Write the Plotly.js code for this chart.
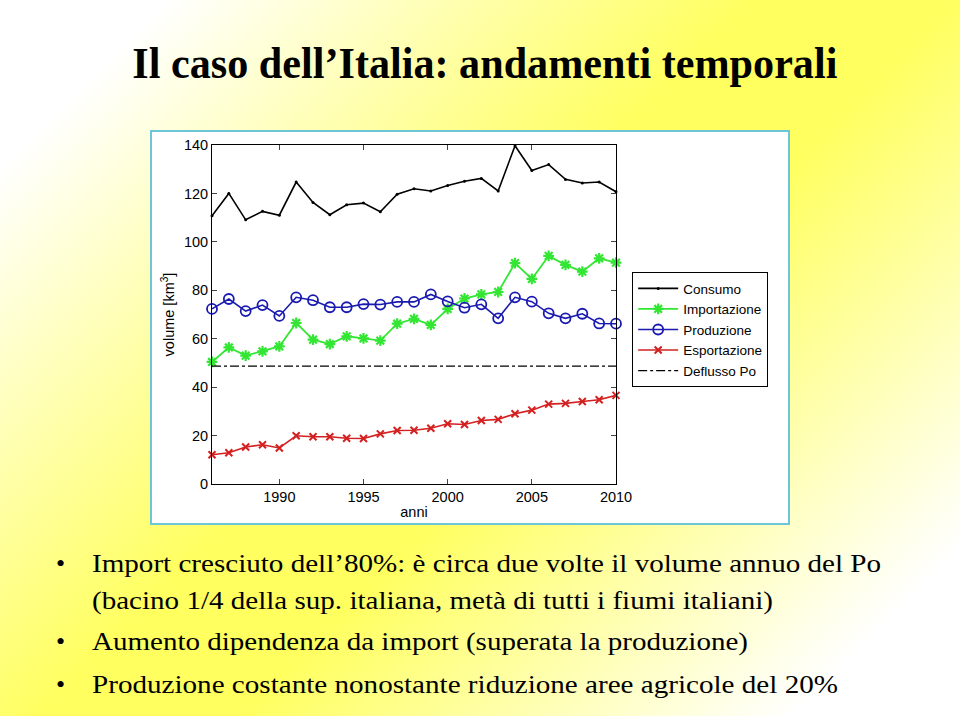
<!DOCTYPE html>
<html>
<head>
<meta charset="utf-8">
<script src="https://cdn.plot.ly/plotly-3.0.1.min.js"></script>
<style>
  html, body { margin:0; padding:0; }
  body { width:960px; height:716px; overflow:hidden; position:relative;
    background: linear-gradient(135deg, #ffffff 10%, #ffff60 45%, #ffff60 57%, #ffffff 90%); }
  #title { position:absolute; left:5px; top:38px; width:960px; text-align:center;
    font-family:"Liberation Serif","Times New Roman",Times,serif; font-weight:bold; font-size:44px; color:#000; white-space:nowrap; }
  #title span { display:inline-block; transform-origin:center; }
  #panel { position:absolute; left:150px; top:130px; width:640px; height:395px; box-sizing:border-box;
    border:2px solid #6cc6d6; background:#fff; }
  #chart { width:636px; height:391px; }
  .b { position:absolute; font-family:"Liberation Serif","Times New Roman",Times,serif; font-size:26px; line-height:26px; color:#000; white-space:nowrap; transform-origin:left center; }
</style>
</head>
<body>
<div id="title"><span id="tspan">Il caso dell’Italia: andamenti temporali</span></div>
<div id="panel"><div id="chart"></div></div>
<div class="b" style="left:56px;top:551px;">•</div>
<div class="b fit" data-w="789" style="left:92px;top:551px;">Import cresciuto dell’80%: è circa due volte il volume annuo del Po</div>
<div class="b fit" data-w="681" style="left:92px;top:588px;">(bacino 1/4 della sup. italiana, metà di tutti i fiumi italiani)</div>
<div class="b" style="left:56px;top:629px;">•</div>
<div class="b fit" data-w="656" style="left:92px;top:629px;">Aumento dipendenza da import (superata la produzione)</div>
<div class="b" style="left:56px;top:672px;">•</div>
<div class="b fit" data-w="746" style="left:92px;top:672px;">Produzione costante nonostante riduzione aree agricole del 20%</div>
<script>
const years = [1986,1987,1988,1989,1990,1991,1992,1993,1994,1995,1996,1997,1998,1999,2000,2001,2002,2003,2004,2005,2006,2007,2008,2009,2010];
const consumo = [110.8,120.0,109.1,112.6,111.0,124.7,116.3,111.2,115.3,116.0,112.4,119.7,121.9,121.0,123.3,125.0,126.2,121.0,139.7,129.5,131.9,125.8,124.3,124.7,120.7];
const importazione = [50.4,56.4,53.0,54.8,56.8,66.5,59.6,57.8,61.0,60.1,59.2,66.2,68.2,65.7,72.3,76.6,78.3,79.3,91.2,84.7,94.2,90.5,87.7,93.2,91.4];
const produzione = [72.3,76.4,71.4,73.9,69.4,77.1,75.9,73.0,73.0,74.3,74.1,75.2,75.2,78.3,75.4,72.8,74.2,68.4,77.1,75.3,70.5,68.4,70.3,66.3,66.2];
const esportazione = [12.1,12.9,15.3,16.2,14.9,19.9,19.5,19.5,18.9,18.8,20.7,22.1,22.2,23.0,24.9,24.6,26.2,26.7,29.0,30.5,33.0,33.3,34.1,34.8,36.6];
const poYears = [1986,2010];
const deflussoPo = [48.7,48.7];
const xTicks = [1990,1995,2000,2005,2010];
const yTicks = [0,20,40,60,80,100,120,140];

const traces = [
  {x:years, y:consumo, name:'Consumo', type:'scatter', mode:'lines+markers', cliponaxis:false,
   line:{color:'#000000', width:1.6}, marker:{symbol:'circle', size:3, color:'#000000'}},
  {x:years, y:importazione, name:'Importazione', type:'scatter', mode:'lines+markers', cliponaxis:false,
   line:{color:'#33e633', width:1.8}, marker:{symbol:'asterisk-open', size:9, color:'#33e633', line:{color:'#33e633', width:2.2}}},
  {x:years, y:produzione, name:'Produzione', type:'scatter', mode:'lines+markers', cliponaxis:false,
   line:{color:'#1a1ab0', width:1.6}, marker:{symbol:'circle-open', size:10, color:'#1a1ab0', line:{color:'#1a1ab0', width:1.8}}},
  {x:years, y:esportazione, name:'Esportazione', type:'scatter', mode:'lines+markers', cliponaxis:false,
   line:{color:'#d42020', width:1.6}, marker:{symbol:'x-thin-open', size:7, color:'#d42020', line:{color:'#d42020', width:2}}},
  {x:poYears, y:deflussoPo, name:'Deflusso Po', type:'scatter', mode:'lines',
   line:{color:'#000000', width:1.3, dash:'dashdot'}}
];

const layout = {
  width:636, height:391,
  margin:{l:60, r:172, t:13, b:39},
  paper_bgcolor:'#ffffff', plot_bgcolor:'#ffffff',
  font:{family:'Liberation Sans, Arial, sans-serif', size:14.5, color:'#000'},
  showlegend:true,
  legend:{x:1.04, y:0.625, xanchor:'left', yanchor:'top', bordercolor:'#000', borderwidth:1,
          bgcolor:'#ffffff', font:{size:13.5}, tracegroupgap:0, itemwidth:40},
  xaxis:{range:[1986,2010], tickvals:xTicks, ticktext:xTicks.map(String), ticks:'inside', ticklen:5,
         tickfont:{size:14.5},
         showline:true, linecolor:'#000', linewidth:1, mirror:'ticks', showgrid:false, zeroline:false,
         title:{text:'anni', standoff:2, font:{size:14.5}}},
  yaxis:{range:[0,140], tickvals:yTicks, ticktext:yTicks.map(String), ticks:'inside', ticklen:5,
         tickfont:{size:14.5},
         showline:true, linecolor:'#000', linewidth:1, mirror:'ticks', showgrid:false, zeroline:false,
         title:{text:'volume [km<sup>3</sup>]', standoff:5, font:{size:14.5}}}
};
Plotly.newPlot('chart', traces, layout, {displayModeBar:false, staticPlot:true});

const ts = document.getElementById('tspan');
const w = ts.getBoundingClientRect().width;
ts.style.transform = 'scaleX(' + (705 / w) + ')';
document.querySelectorAll('.fit').forEach(el => {
  const ww = el.getBoundingClientRect().width;
  el.style.transform = 'scaleX(' + (parseFloat(el.dataset.w) / ww) + ')';
});
</script>
</body>
</html>
